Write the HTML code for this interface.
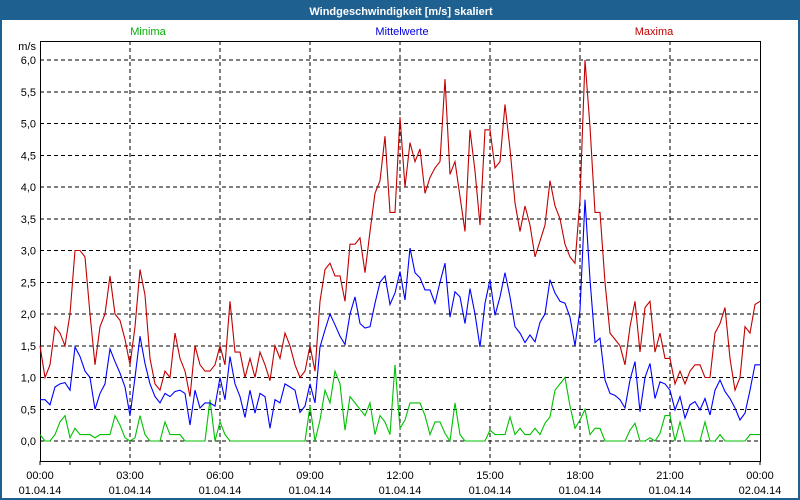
<!DOCTYPE html>
<html><head><meta charset="utf-8"><style>
html,body{margin:0;padding:0;background:#fff}
#wrap{position:relative;width:800px;height:500px;box-sizing:border-box;border:2px solid #1e6090;border-top:none;background:#fff;overflow:hidden}
svg text{font-family:"Liberation Sans",sans-serif;font-size:11px}
</style></head><body>
<div id="wrap">
<svg id="chart" width="800" height="500" style="position:absolute;left:-2px;top:0"></svg>
</div>
<script>
const xTickLabels=["00:00","03:00","06:00","09:00","12:00","15:00","18:00","21:00","00:00"];
const xDateLabels=["01.04.14","01.04.14","01.04.14","01.04.14","01.04.14","01.04.14","01.04.14","01.04.14","02.04.14"];
const yTicks=[0,0.5,1,1.5,2,2.5,3,3.5,4,4.5,5,5.5,6];
const maxima=[1.5,1.0,1.2,1.8,1.7,1.5,2.0,3.0,3.0,2.9,2.0,1.2,1.8,2.0,2.6,2.0,1.9,1.6,1.2,1.8,2.7,2.3,1.3,0.9,0.8,1.1,1.0,1.7,1.3,1.1,0.7,1.5,1.2,1.1,1.1,1.2,1.5,1.2,2.2,1.4,1.4,1.0,1.3,1.0,1.4,1.2,0.95,1.5,1.3,1.7,1.5,1.2,1.0,1.1,1.5,
1.1,2.2,2.7,2.8,2.6,2.6,2.2,3.1,3.1,3.2,2.65,3.3,3.9,4.1,4.8,3.6,3.6,5.1,4.0,4.7,4.4,4.6,3.9,4.15,4.3,4.4,5.7,4.2,4.4,3.85,3.3,4.9,4.25,3.4,4.9,4.9,4.3,4.4,5.3,4.6,3.75,3.3,3.7,3.4,2.9,3.15,
3.4,4.1,3.7,3.5,3.1,2.9,2.8,3.8,6.0,4.95,3.6,3.6,2.5,1.7,1.6,1.5,1.2,1.8,2.2,1.4,2.1,2.2,1.4,1.7,1.3,1.3,0.9,1.1,0.9,1.1,1.2,1.2,1.0,1.0,1.7,1.85,2.1,1.3,0.8,1.0,1.8,1.7,2.15,2.2];
const mittel=[0.65,0.65,0.57,0.85,0.9,0.92,0.8,1.48,1.33,1.1,1.0,0.5,0.75,0.9,1.45,1.25,1.07,0.85,0.4,1.0,1.65,1.22,0.9,0.7,0.6,0.75,0.7,0.78,0.8,0.75,0.25,0.8,0.52,0.6,0.6,0.55,1.0,0.65,1.33,0.9,0.7,0.37,0.8,0.44,0.75,0.7,0.2,0.65,0.6,0.9,0.85,0.8,0.45,0.55,0.9,
0.6,1.48,1.75,2.0,1.83,1.65,1.52,2.0,2.27,1.85,1.78,1.8,2.17,2.5,2.6,2.15,2.33,2.67,2.22,3.04,2.65,2.57,2.38,2.38,2.17,2.5,2.8,1.95,2.35,2.27,1.85,2.4,2.0,1.48,2.17,2.54,1.98,2.27,2.65,2.27,1.8,1.7,1.55,1.67,1.56,1.87,
2.0,2.54,2.33,2.2,2.17,1.95,1.5,2.06,3.8,2.54,1.55,1.62,0.96,0.75,0.72,0.65,0.52,0.96,1.25,0.46,1.0,1.22,0.67,0.93,0.9,0.8,0.49,0.7,0.36,0.57,0.62,0.49,0.67,0.41,0.8,0.96,0.78,0.67,0.52,0.33,0.44,0.8,1.2,1.2];
const minima=[0.1,0,0,0.1,0.3,0.4,0.05,0.2,0.1,0.1,0.1,0.05,0.1,0.1,0.1,0.4,0.25,0.05,0,0.05,0.4,0.1,0,0,0,0.3,0.1,0.1,0.1,0,0,0,0,0,0.65,0,0.3,0.1,0,0,0,0,0,0,0,0,0,0,0,0,0,0,0,0,0.55,
0,0.33,0.8,0.6,1.1,0.9,0.17,0.7,0.6,0.5,0.4,0.6,0.1,0.4,0.3,0.1,1.2,0.2,0.33,0.6,0.6,0.6,0.4,0.1,0.3,0.3,0.12,0,0.6,0.1,0,0,0,0,0,0.17,0.1,0.1,0.1,0.38,0.1,0.2,0.1,0.1,0.2,0.1,
0.28,0.38,0.8,0.9,1.0,0.55,0.2,0.33,0.5,0.1,0.2,0.2,0,0,0,0,0,0.17,0.28,0,0,0.05,0,0.12,0.4,0.4,0,0.3,0,0,0,0,0.3,0,0,0.1,0,0,0,0,0,0.1,0.1,0.1];

const NS="http://www.w3.org/2000/svg";
const svg=document.getElementById('chart');
const X0=40,X1=760,YTOP=41,YB=461;
const xScale=i=>X0+i*(X1-X0)/(maxima.length-1);
const xHour=h=>X0+h*(X1-X0)/24;
const yScale=v=>441-v*63.5;
function mk(tag,attrs){const e=document.createElementNS(NS,tag);for(const k in attrs)e.setAttribute(k,attrs[k]);svg.appendChild(e);return e;}

let r=mk('rect',{x:0,y:0,width:802,height:20,fill:'#1e6090'});


let t=mk('text',{x:401,y:15,'text-anchor':'middle',fill:'#fff','font-weight':'bold'});t.textContent='Windgeschwindigkeit [m/s] skaliert';



const legends=[["Minima",148,'#00b000'],["Mittelwerte",402,'#0000e0'],["Maxima",654,'#c00000']];
legends.forEach(l=>{const e=mk('text',{x:l[1],y:35,'text-anchor':'middle',fill:l[2]});e.textContent=l[0];

});

let u=mk('text',{x:36,y:50,'text-anchor':'end',fill:'#000'});u.textContent='m/s';



yTicks.forEach(v=>{const y=yScale(v);
const g=mk('line',{x1:X0,x2:X1,y1:y,y2:y,stroke:'#000','stroke-dasharray':'4,3','stroke-width':1,'shape-rendering':'crispEdges'});


const l=mk('text',{x:36,y:y+4,'text-anchor':'end',fill:'#000'});l.textContent=v.toFixed(1).replace('.',',');

});

for(let h=3;h<24;h+=3){const x=xHour(h);
const g=mk('line',{x1:x,x2:x,y1:YTOP,y2:YB,stroke:'#000','stroke-dasharray':'4,3','shape-rendering':'crispEdges'});

}
for(let h=0;h<=24;h++){const x=xHour(h);
const k=mk('line',{x1:x,x2:x,y1:YB,y2:YB+4,stroke:'#000','shape-rendering':'crispEdges'});

}
xTickLabels.forEach((s,i)=>{const x=xHour(i*3);
const a=mk('text',{x:x,y:479,'text-anchor':'middle',fill:'#000'});a.textContent=s;


const b=mk('text',{x:x,y:494,'text-anchor':'middle',fill:'#000'});b.textContent=xDateLabels[i];

});

const fr=mk('path',{d:`M${X0+.5},${YB}V${YTOP+.5}H${X1+.5}V${YB}M${X0},${YB+.5}H${X1+1}`,fill:'none',stroke:'#000','shape-rendering':'crispEdges'});



[[minima,'#00c000','series-minima'],[mittel,'#0000ff','series-mittelwerte'],[maxima,'#c00000','series-maxima']].forEach(s=>{
const d=s[0].map((v,i)=>(i?'L':'M')+xScale(i).toFixed(1)+','+yScale(v).toFixed(1)).join('');
const p=mk('path',{d:d,fill:'none',stroke:s[1],'stroke-width':1.1});

});
</script>
</body></html>
